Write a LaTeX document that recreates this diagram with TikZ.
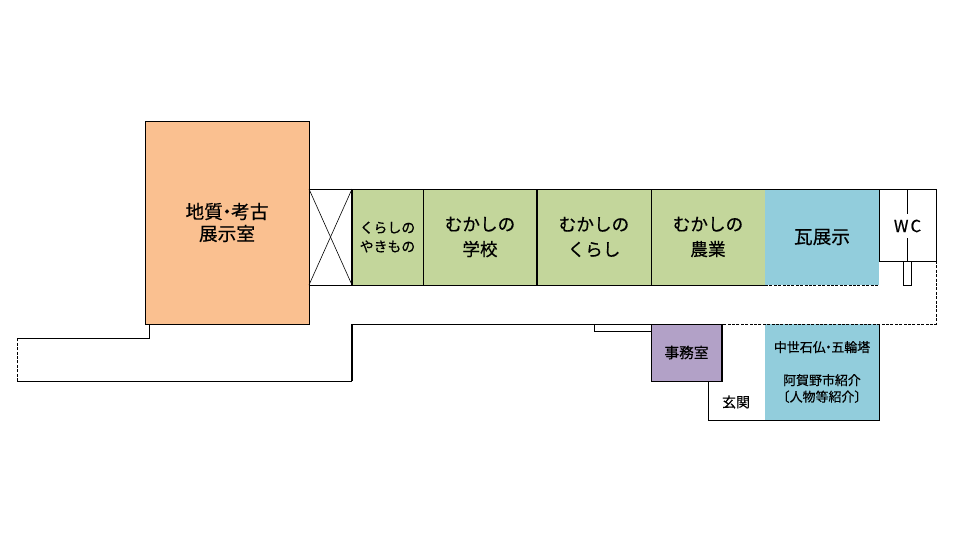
\documentclass[tikz,border=0pt]{standalone}
\usepackage{fontspec}
\setmainfont[FakeBold=.5]{Noto Sans CJK JP}
\definecolor{roomorange}{HTML}{FAC090}
\definecolor{roomgreen}{HTML}{C3D69B}
\definecolor{roomblue}{HTML}{92CDDC}
\definecolor{roompurple}{HTML}{B2A1C7}
\tikzstyle{room} = [draw, line width=.72pt, anchor=north west, align=center, inner sep=0pt, outer sep=0pt]
\tikzstyle{wall} = [line width=.72pt]
\tikzstyle{thickwall} = [line width=1.3pt]
\tikzstyle{thinwall} = [line width=.45pt]
\tikzstyle{openwall} = [line width=.75pt, dash pattern=on 2.2pt off 1.1pt]
\tikzstyle{hugerm} = [font=\fontsize{14}{16.5}\selectfont]
\tikzstyle{bigrm} = [font=\fontsize{13.2}{18.8}\selectfont]
\tikzstyle{midrm} = [font=\fontsize{10.4}{14.2}\selectfont]
\tikzstyle{smallrm} = [font=\fontsize{9.7}{12.4}\selectfont]
\newcommand{\tightdot}{\hspace{-.28em}・\hspace{-.28em}}

\begin{document}
\begin{tikzpicture}[x=.75pt,y=-.75pt]
    \useasboundingbox (0,0) rectangle (960,540);
    % rooms
    \node[room, fill=roomorange, minimum width=123pt, minimum height=152.25pt, hugerm] (geology) at (145,121)
        {地質\tightdot 考古\\展示室};
    \node[room, minimum width=32.25pt, minimum height=72pt] (stair) at (309,189) {};
    \node[room, fill=roomgreen, minimum width=53.25pt, minimum height=72pt, midrm] (clothes) at (352,189)
        {くらしの\\やきもの};
    \node[room, fill=roomgreen, minimum width=85.5pt, minimum height=72pt, bigrm] (school) at (423,189)
        {むかしの\\学校};
    \node[room, fill=roomgreen, minimum width=85.5pt, minimum height=72pt, bigrm] (living) at (537,189)
        {むかしの\\くらし};
    \node[room, fill=roomgreen, minimum width=85.5pt, minimum height=72pt, bigrm] (farming) at (651,189)
        {むかしの\\農業};
    \node[room, fill=roomblue, minimum width=85.5pt, minimum height=72pt, draw=none, hugerm] (tile) at (765,189)
        {瓦展示};
    \node[room, minimum width=42.75pt, minimum height=54pt] (wc) at (879,189) {};
    \node[font=\fontsize{12.5}{14}\selectfont] (wclabel) at (907.5,226) {W\hspace{1.5pt}C};
    \node[room, minimum width=6pt, minimum height=18pt] (sink) at (903,261) {};
    \node[room, fill=roompurple, minimum width=53.25pt, minimum height=42.75pt, font=\fontsize{11}{14}\selectfont] (office) at (651,324)
        {事務室};
    \node[room, fill=roomblue, minimum width=85.5pt, minimum height=72pt, draw=none, smallrm] (medieval) at (765,324)
        {中世石仏\tightdot 五輪塔\\[12.4pt]阿賀野市紹介\\〔人物等紹介〕};
    \node[font=\fontsize{10.5}{12}\selectfont] (entrance) at (736,402) {玄関};
    % walls
    \draw[thinwall] (stair.north west) -- (stair.south east);
    \draw[thinwall] (stair.north east) -- (stair.south west);
    \draw[thickwall] (stair.north east) -- (stair.south east);
    \draw[thickwall] (school.north east) -- (school.south east);
    \draw[wall] (tile.north west) -- (tile.north east);
    \draw[openwall] (tile.south west) -- (tile.south east);
    \draw[thickwall] (907.5,189) -- (907.5,214);
    \draw[thickwall] (907.5,238) -- (907.5,261);
    \draw[openwall] (wc.south east) -- (936,324) -- (723,324);
    \draw[wall] (723,324) -- (352,324);
    \draw[thickwall] (352,324) -- (352,381);
    \draw[wall] (352,381) -- (17,381);
    \draw[openwall] (17,381) -- (17,338);
    \draw[wall] (17,338) -- (149,338) -- (149,324);
    \draw[wall] (594,324) -- (594,331) -- (651,331);
    \draw[thickwall] (office.north east) -- (office.south east);
    \draw[wall] (708,381) -- (708,420) -- (medieval.south west);
    \draw[wall] (medieval.south west) -- (medieval.south east) -- (medieval.north east);
\end{tikzpicture}
\end{document}
